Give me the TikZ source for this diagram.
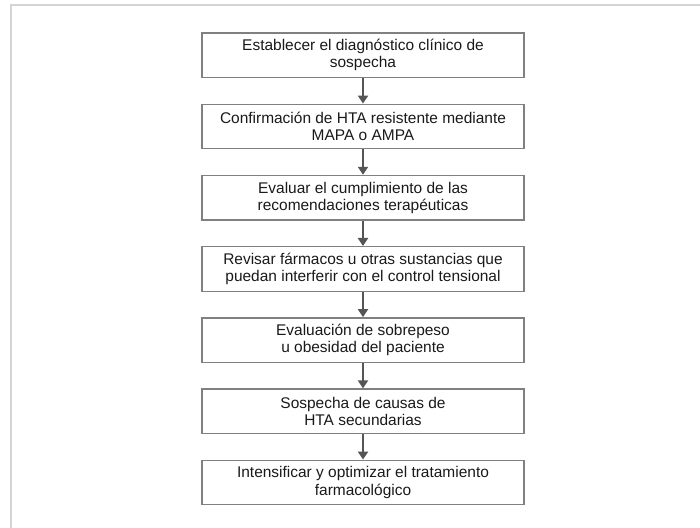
\documentclass[tikz,border=0pt]{standalone}
\usepackage{fontspec}
\setmainfont{Liberation Sans}
\usetikzlibrary{arrows.meta}
\definecolor{framegray}{HTML}{D4D4D4}
\definecolor{boxgray}{HTML}{808080}
\definecolor{arrowgray}{HTML}{555555}
\definecolor{textdark}{HTML}{1A1A1A}
\begin{document}
\begin{tikzpicture}[x=0.75pt,y=-0.75pt,
  stepbox/.style={draw=boxgray, line width=1pt, minimum width=241.5pt, minimum height=33.4pt,
    align=center, font=\fontsize{11.6}{12.8}\selectfont, text=textdark, inner sep=0pt, fill=white},
  conn/.style={draw=arrowgray, line width=1.9pt, -{Triangle[length=6pt,width=7.5pt]}}]
\useasboundingbox (0,0) rectangle (700,528);
\fill[white] (0,0) rectangle (700,528);
\draw[framegray, line width=1.5pt] (11,530) -- (11,5) -- (702,5);
\node[stepbox] (b1) at (363,55.3) {Establecer el diagnóstico clínico de\\sospecha};
\node[stepbox] (b2) at (363,126.5) {Confirmación de HTA resistente mediante\\MAPA o AMPA};
\node[stepbox] (b3) at (363,197.7) {Evaluar el cumplimiento de las\\recomendaciones terapéuticas};
\node[stepbox] (b4) at (363,268.9) {Revisar fármacos u otras sustancias que\\puedan interferir con el control tensional};
\node[stepbox] (b5) at (363,340.1) {Evaluación de sobrepeso\\u obesidad del paciente};
\node[stepbox] (b6) at (363,411.3) {Sospecha de causas de\\HTA secundarias};
\node[stepbox] (b7) at (363,482.5) {Intensificar y optimizar el tratamiento\\farmacológico};
\draw[conn] (b1) -- (b2);
\draw[conn] (b2) -- (b3);
\draw[conn] (b3) -- (b4);
\draw[conn] (b4) -- (b5);
\draw[conn] (b5) -- (b6);
\draw[conn] (b6) -- (b7);
\end{tikzpicture}
\end{document}
